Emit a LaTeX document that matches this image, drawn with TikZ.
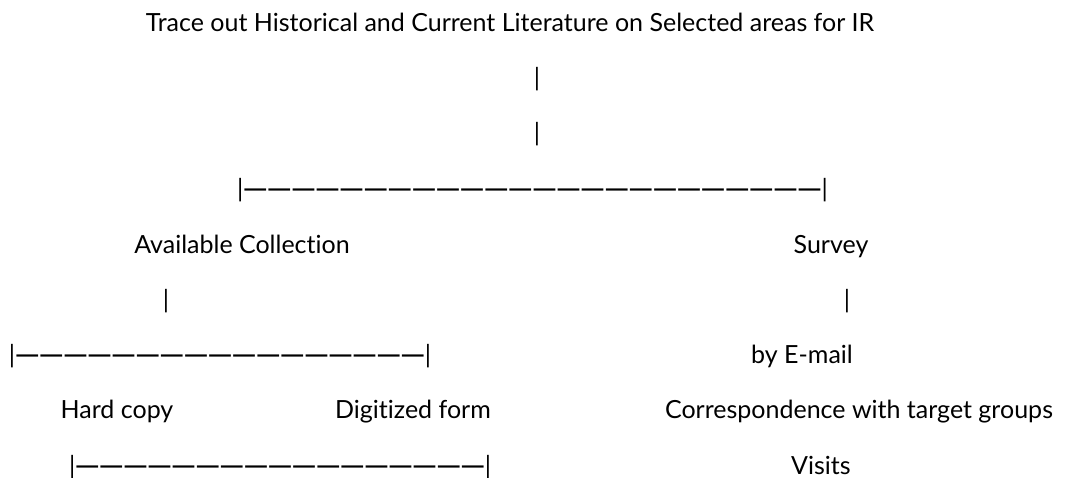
\documentclass[tikz,border=0pt]{standalone}
\usepackage{fontspec}
\setmainfont{Lato}[Ligatures={NoCommon,NoContextual}]
\usepackage{graphicx}
\newcommand\emdashbox{\makebox[24.1pt]{\resizebox{25.5pt}{\height}{\bfseries —}}}
\newcommand\dashrun[1]{\foreach \k in {1,...,#1}{\emdashbox}}
\begin{document}
\begin{tikzpicture}[x=1pt,y=-1pt,
  lbl/.style={inner sep=0pt, outer sep=0pt, anchor=base, text=black,
              font=\fontsize{25pt}{30pt}\selectfont},
  bar/.style={lbl},
  rowline/.style={lbl, anchor=base west}]
\useasboundingbox (0,0) rectangle (1075,478);
\fill[white] (0,0) rectangle (1075,478);
% row 1
\node[lbl] (title) at (510,32) {Trace out Historical and Current Literature on Selected areas for IR};
% rows 2-3
\node[bar] (p1) at (537,87) {|};
\node[bar] (p2) at (537,142) {|};
% row 4
\node[rowline] (l1) at (237,198) {|\dashrun{24}|};
% row 5
\node[lbl] (avail) at (242,253) {Available Collection};
\node[lbl] (survey) at (831,253) {Survey};
% row 6
\node[bar] (p3) at (166,308) {|};
\node[bar] (p4) at (847,308) {|};
% row 7
\node[rowline] (l2) at (9,363) {|\dashrun{17}|};
\node[lbl] (email) at (802,363) {by E-mail};
% row 8
\node[lbl] (hard) at (117,418) {Hard copy};
\node[lbl] (digit) at (413,418) {Digitized form};
\node[lbl] (corr) at (859,418) {Correspondence with target groups};
% row 9
\node[rowline] (l3) at (69,474) {|\dashrun{17}|};
\node[lbl] (visits) at (821,474) {Visits};
\end{tikzpicture}
\end{document}
